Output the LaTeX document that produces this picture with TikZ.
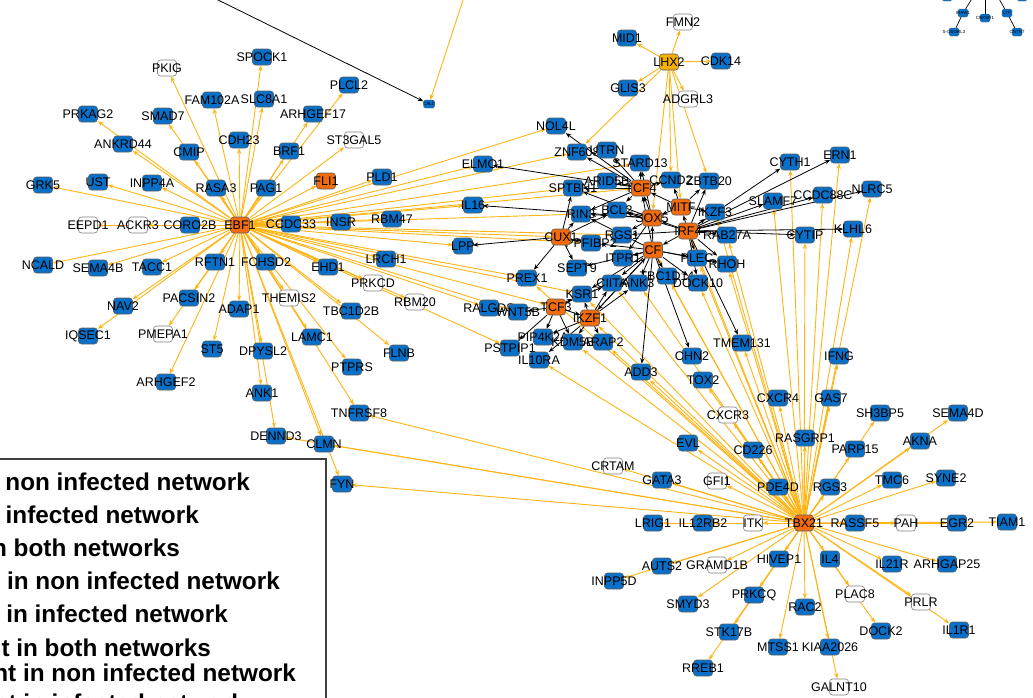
\documentclass[tikz,border=0pt]{standalone}
\usepackage{fontspec}
\setmainfont{Liberation Sans}
\usetikzlibrary{arrows.meta}
\definecolor{nblue}{RGB}{8,112,200}
\definecolor{norange}{RGB}{242,108,12}
\definecolor{namber}{RGB}{246,176,0}
\definecolor{eorange}{RGB}{254,180,20}
\definecolor{nborder}{RGB}{95,95,95}
\pgfdeclarelayer{bg}\pgfsetlayers{bg,main}
\tikzset{
 box/.style={draw=nborder,line width=0.6pt,rounded corners=3pt,minimum width=19pt,minimum height=16pt,inner sep=0pt},
 bn/.style={box,fill=nblue},
 wn/.style={box,fill=white,draw=gray},
 on/.style={box,fill=norange},
 an/.style={box,fill=namber},
 tn/.style={draw=nborder,line width=0.3pt,rounded corners=1.5pt,minimum width=10pt,minimum height=8pt,inner sep=0pt,fill=nblue},
 lbl/.style={font=\fontsize{12.5}{13}\selectfont,text=black,inner sep=0pt},
 tlbl/.style={font=\fontsize{4.5}{5}\selectfont,text=black,inner sep=0pt},
 oe/.style={draw=eorange,line width=0.9pt,-{Stealth[length=5.5pt,width=4.2pt]}},
 be/.style={draw=black,line width=0.8pt,-{Stealth[length=5.5pt,width=4.2pt]}},
 tbe/.style={draw=black,line width=0.7pt},
 lg/.style={font=\fontsize{24.3}{28}\selectfont\bfseries,text=black,inner sep=0pt,anchor=base east},
}
\newcommand\gnode[3]{\node[#1,label={[lbl]center:#2}] (#2) at (#3) {};}
\newcommand\tnode[3]{\node[tn,label={[tlbl]center:#2}] (#1) at (#3) {};}
\begin{document}
\begin{tikzpicture}[x=1pt,y=-1pt]
\useasboundingbox (0,0) rectangle (1033,697);
\clip (0,0) rectangle (1033,697);
% ---------- EBF1 cluster ----------
\gnode{bn}{SPOCK1}{262,57}
\gnode{wn}{PKIG}{167,68}
\gnode{bn}{FAM102A}{212,100}
\gnode{bn}{SLC8A1}{264,99}
\gnode{bn}{PRKAG2}{88,114}
\gnode{bn}{SMAD7}{163,116}
\gnode{bn}{ARHGEF17}{313,114}
\gnode{bn}{PLCL2}{349,85}
\gnode{wn}{ST3GAL5}{354,140}
\gnode{bn}{ANKRD44}{123,144}
\gnode{bn}{CMIP}{189,152}
\gnode{bn}{CDH23}{239,140}
\gnode{bn}{BRF1}{289,151}
\gnode{bn}{GRK5}{43,185}
\gnode{bn}{UST}{98,182}
\gnode{bn}{INPP4A}{152,183}
\gnode{bn}{RASA3}{216,188}
\gnode{bn}{PAG1}{266,188}
\gnode{on}{FLI1}{326,181}
\gnode{wn}{EEPD1}{88,225}
\gnode{wn}{ACKR3}{138,225}
\gnode{bn}{CORO2B}{190,225}
\gnode{bn}{CCDC33}{291,224}
\gnode{bn}{INSR}{341,222}
\gnode{bn}{PLD1}{382,177}
\gnode{bn}{RBM47}{392,219}
\gnode{bn}{NCALD}{43,265}
\gnode{bn}{SEMA4B}{98,268}
\gnode{bn}{TACC1}{152,267}
\gnode{bn}{RFTN1}{215,262}
\gnode{bn}{FCHSD2}{266,262}
\gnode{bn}{EHD1}{328,267}
\gnode{bn}{LRCH1}{386,259}
\gnode{wn}{PRKCD}{373,283}
\gnode{bn}{NAV2}{123,306}
\gnode{bn}{PACSIN2}{189,298}
\gnode{wn}{THEMIS2}{289,298}
\gnode{bn}{ADAP1}{239,309}
\gnode{bn}{TBC1D2B}{351,311}
\gnode{wn}{RBM20}{415,302}
\gnode{bn}{IQSEC1}{88,336}
\gnode{wn}{PMEPA1}{163,334}
\gnode{bn}{ST5}{212,349}
\gnode{bn}{DPYSL2}{263,351}
\gnode{bn}{LAMC1}{312,337}
\gnode{bn}{PTPRS}{352,367}
\gnode{bn}{FLNB}{399,353}
\gnode{bn}{ARHGEF2}{166,382}
\gnode{bn}{ANK1}{262,393}
\gnode{bn}{TNFRSF8}{359,413}
\gnode{bn}{DENND3}{276,436}
\gnode{bn}{CLMN}{324,444}
\gnode{bn}{FYN}{342,484}
\gnode{on}{EBF1}{240,225}
% small node top
\node[tn,minimum width=11pt,label={[tlbl]center:CALD}] (CALD) at (429,104) {};
\coordinate (offA) at (212,-3);
\coordinate (offB) at (464,-3);
% ---------- LHX2 ----------
\gnode{wn}{FMN2}{683,22}
\gnode{bn}{MID1}{627,38}
\gnode{bn}{CDK14}{721,61}
\gnode{bn}{GLIS3}{628,88}
\gnode{wn}{ADGRL3}{688,99}
\gnode{an}{LHX2}{669,62}
% ---------- central ----------
\gnode{bn}{NOL4L}{556,126}
\gnode{bn}{ELMO1}{483,164}
\gnode{bn}{ZNF608}{577,152}
\gnode{bn}{UTRN}{607,150}
\gnode{bn}{STARD13}{640,163}
\gnode{bn}{SPTBN1}{573,188}
\gnode{bn}{ARID5B}{607,181}
\gnode{bn}{CCND2}{671,180}
\gnode{bn}{ZBTB20}{709,181}
\gnode{bn}{IL16}{473,205}
\gnode{bn}{RIN3}{581,214}
\gnode{bn}{BCL2}{617,210}
\gnode{bn}{IKZF3}{715,212}
\gnode{bn}{RAB27A}{727,235}
\gnode{bn}{RGS1}{622,235}
\gnode{bn}{PPFIBP2}{591,243}
\gnode{bn}{LPP}{463,246}
\gnode{bn}{ITPR1}{623,258}
\gnode{bn}{PLEC}{697,258}
\gnode{bn}{RHOH}{727,264}
\gnode{bn}{SEPT9}{577,268}
\gnode{bn}{TBC1D14}{667,276}
\gnode{bn}{DOCK10}{698,283}
\gnode{bn}{PREX1}{527,278}
\gnode{bn}{CIITA}{612,283}
\gnode{bn}{ANK3}{638,283}
\gnode{bn}{KSR1}{582,294}
\gnode{bn}{RALGDS}{489,308}
\gnode{bn}{WNT5B}{518,312}
\gnode{bn}{PIP4K2A}{543,337}
\gnode{bn}{KDM5B}{573,342}
\gnode{bn}{ARAP2}{603,342}
\gnode{bn}{PSTPIP1}{510,348}
\gnode{bn}{IL10RA}{539,360}
\gnode{bn}{TMEM131}{742,343}
\gnode{bn}{CHN2}{692,356}
\gnode{bn}{ADD3}{641,372}
\gnode{bn}{TOX2}{703,380}
\gnode{on}{TCF4}{641,188}
\gnode{on}{MITF}{681,207}
\gnode{on}{SOX5}{652,218}
\gnode{on}{IRF4}{688,231}
\gnode{on}{CUX1}{561,237}
\gnode{on}{CF}{653,250}
\gnode{on}{TCF3}{556,307}
\gnode{on}{IKZF1}{590,318}
% ---------- right ----------
\gnode{bn}{CYTH1}{790,162}
\gnode{bn}{ERN1}{840,155}
\gnode{bn}{SLAMF7}{773,201}
\gnode{bn}{CCDC88C}{823,195}
\gnode{bn}{NLRC5}{872,189}
\gnode{bn}{KLHL6}{853,229}
\gnode{bn}{CYTIP}{805,235}
\gnode{bn}{IFNG}{839,356}
\gnode{bn}{CXCR4}{778,398}
\gnode{bn}{GAS7}{831,398}
\gnode{bn}{SH3BP5}{880,413}
\gnode{bn}{SEMA4D}{958,413}
\gnode{wn}{CXCR3}{728,415}
\gnode{bn}{RASGRP1}{805,438}
\gnode{bn}{PARP15}{855,449}
\gnode{bn}{AKNA}{920,441}
\gnode{bn}{EVL}{688,443}
\gnode{bn}{CD226}{753,450}
\gnode{wn}{CRTAM}{613,466}
\gnode{bn}{GATA3}{662,480}
\gnode{wn}{GFI1}{717,481}
\gnode{bn}{PDE4D}{778,487}
\gnode{bn}{RGS3}{830,487}
\gnode{bn}{TMC6}{892,480}
\gnode{bn}{SYNE2}{946,478}
\gnode{bn}{LRIG1}{653,523}
\gnode{bn}{IL12RB2}{703,523}
\gnode{wn}{ITK}{753,523}
\gnode{bn}{RASSF5}{855,523}
\gnode{wn}{PAH}{906,523}
\gnode{bn}{EGR2}{957,523}
\gnode{bn}{TIAM1}{1007,522}
\gnode{bn}{AUTS2}{662,566}
\gnode{wn}{GRAMD1B}{717,565}
\gnode{bn}{HIVEP1}{779,559}
\gnode{bn}{IL4}{830,559}
\gnode{bn}{IL21R}{892,564}
\gnode{bn}{ARHGAP25}{947,564}
\gnode{bn}{INPP5D}{614,581}
\gnode{bn}{SMYD3}{688,604}
\gnode{bn}{PRKCQ}{754,595}
\gnode{bn}{RAC2}{805,607}
\gnode{wn}{PLAC8}{855,594}
\gnode{wn}{PRLR}{921,602}
\gnode{bn}{STK17B}{729,632}
\gnode{bn}{DOCK2}{881,631}
\gnode{bn}{IL1R1}{959,630}
\gnode{bn}{MTSS1}{778,647}
\gnode{bn}{KIAA2026}{830,647}
\gnode{bn}{RREB1}{703,668}
\gnode{wn}{GALNT10}{839,687}
\gnode{on}{TBX21}{804,523}
% ---------- top-right fragment ----------
\node[tn] (tp1) at (947,-3) {};
\node[tn] (tp2) at (1022,-3) {};
\tnode{t1}{IHAW1}{963,13}
\tnode{t2}{CNKSR1}{985,18}
\tnode{t3}{LTF}{1007,13}
\tnode{t4}{S-OSGRL3}{954,32}
\tnode{t5}{CNTN7}{1017,32}
\coordinate (u1) at (973,-3);
\coordinate (u2) at (985,-3);
\coordinate (u3) at (998,-3);
% ---------- edges ----------
\begin{pgfonlayer}{bg}
\foreach \t in {SPOCK1,PKIG,FAM102A,SLC8A1,PRKAG2,SMAD7,ARHGEF17,PLCL2,ST3GAL5,ANKRD44,CMIP,CDH23,BRF1,GRK5,UST,INPP4A,RASA3,PAG1,FLI1,EEPD1,ACKR3,CORO2B,CCDC33,INSR,PLD1,RBM47,NCALD,SEMA4B,TACC1,RFTN1,FCHSD2,EHD1,LRCH1,PRKCD,NAV2,PACSIN2,THEMIS2,ADAP1,TBC1D2B,RBM20,IQSEC1,PMEPA1,ST5,DPYSL2,LAMC1,PTPRS,FLNB,ARHGEF2,ANK1,TNFRSF8,DENND3,CLMN,FYN,NOL4L,ELMO1,ZNF608,STARD13,SPTBN1,TCF4,IL16,RIN3,CUX1,RGS1,LPP,PPFIBP2,PREX1,RALGDS,WNT5B,TCF3,KSR1,PSTPIP1}
  \draw[oe] (EBF1) -- (\t);
\foreach \t in {FMN2,MID1,CDK14,GLIS3,ADGRL3,ZNF608,CCND2,SOX5,MITF,ZBTB20}
  \draw[oe] (LHX2) -- (\t);
\foreach \t in {SH3BP5,SEMA4D,PARP15,AKNA,TMC6,SYNE2,RGS3,PDE4D,GFI1,GATA3,CRTAM,EVL,CD226,RASGRP1,CXCR3,CXCR4,GAS7,IFNG,LRIG1,IL12RB2,ITK,RASSF5,PAH,EGR2,TIAM1,AUTS2,INPP5D,GRAMD1B,HIVEP1,SMYD3,IL4,IL21R,ARHGAP25,PRKCQ,STK17B,RREB1,RAC2,PLAC8,DOCK2,PRLR,IL1R1,MTSS1,KIAA2026,GALNT10,TMEM131,TOX2,ADD3,CYTH1,ERN1,CCDC88C,NLRC5,KLHL6,CYTIP,SLAMF7,IKZF3,RAB27A,RHOH,PLEC,DOCK10,TBC1D14,ANK3,CIITA,KSR1,IKZF1,ARAP2,KDM5B,IL10RA,PREX1,TNFRSF8,DENND3,CLMN,FYN,IRF4,CF}
  \draw[oe] (TBX21) -- (\t);
\draw[oe] (offB) -- (CALD);
% black edges
\draw[be] (offA) -- (CALD);
\foreach \t in {NOL4L,ZNF608,UTRN,STARD13,ARID5B,SPTBN1,ELMO1,CCND2,RIN3,BCL2}
  \draw[be] (TCF4) -- (\t);
\foreach \t in {RIN3,BCL2,IL16,RGS1,ITPR1,SPTBN1,TCF4,STARD13}
  \draw[be] (SOX5) -- (\t);
\foreach \t in {ZBTB20,CCND2,IKZF3,SOX5,TCF4}
  \draw[be] (MITF) -- (\t);
\foreach \t in {IKZF3,SLAMF7,CYTH1,ERN1,CCDC88C,NLRC5,KLHL6,CYTIP,RAB27A,RHOH,PLEC,DOCK10,TMEM131,ZBTB20,MITF,SOX5,BCL2,RGS1,CF}
  \draw[be] (IRF4) -- (\t);
\foreach \t in {PLEC,TBC1D14,ANK3,CIITA,ITPR1,SEPT9,ADD3,CHN2,IKZF1,KSR1,DOCK10,RHOH,SOX5,TCF4,RIN3,PPFIBP2}
  \draw[be] (CF) -- (\t);
\foreach \t in {PREX1,SEPT9,SPTBN1,RIN3,LPP,PPFIBP2,BCL2}
  \draw[be] (CUX1) -- (\t);
\foreach \t in {WNT5B,KSR1,PIP4K2A,PSTPIP1,IKZF1,KDM5B,CIITA}
  \draw[be] (TCF3) -- (\t);
\foreach \t in {KSR1,CIITA,ANK3,KDM5B,ARAP2,IL10RA,PIP4K2A,CF}
  \draw[be] (IKZF1) -- (\t);
\draw[tbe] (u1) -- (t1);
\draw[tbe] (u2) -- (t2);
\draw[tbe] (u3) -- (t3);
\draw[tbe] (t1) -- (t4);
\draw[tbe] (t3) -- (t5);
\end{pgfonlayer}
% ---------- legend ----------
\draw[draw=black!75,line width=1.5pt,fill=white] (-5,459) rectangle (326,705);
\node[lg] (lg1) at (250,490.5) {non infected network};
\node[lg] (lg2) at (199,523.3) {infected network};
\node[lg] (lg3) at (180,556.7) {n both networks};
\node[lg] (lg4) at (280,589) {in non infected network};
\node[lg] (lg5) at (228,622.3) {in infected network};
\node[lg] (lg6) at (211,656) {t in both networks};
\node[lg] (lg7) at (296,681.7) {nt in non infected network};
\node[lg] (lg8) at (245,711) {nt in infected network};
\end{tikzpicture}
\end{document}
